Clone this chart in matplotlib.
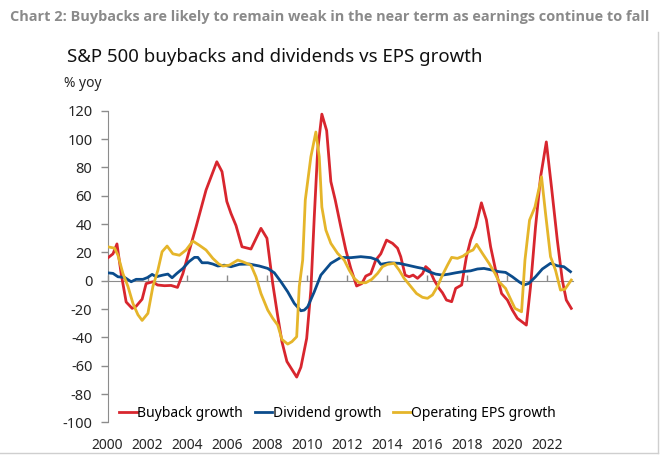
import matplotlib
matplotlib.use("Agg")
import matplotlib.pyplot as plt
from matplotlib.lines import Line2D

plt.rcParams["font.family"] = ["Noto Sans", "DejaVu Sans"]
plt.rcParams["axes.unicode_minus"] = False

# Buyback growth, % yoy (date, value)
buyback_t = [2000.0, 2000.27, 2000.47, 2000.68, 2000.93, 2001.23, 2001.43, 2001.73,
             2001.93, 2002.27, 2002.5, 2002.85, 2003.18, 2003.5, 2003.77, 2004.1,
             2004.43, 2004.93, 2005.47, 2005.73, 2005.97, 2006.18, 2006.43, 2006.73,
             2007.18, 2007.68, 2007.98, 2008.27, 2008.52, 2008.73, 2008.98, 2009.47,
             2009.68, 2009.97, 2010.18, 2010.35, 2010.52, 2010.73, 2010.97, 2011.18,
             2011.4, 2011.68, 2011.93, 2012.18, 2012.47, 2012.73, 2012.93, 2013.18,
             2013.43, 2013.68, 2013.97, 2014.27, 2014.52, 2014.68, 2014.9, 2015.1,
             2015.3, 2015.52, 2015.77, 2015.93, 2016.13, 2016.35, 2016.6, 2016.77,
             2016.97, 2017.23, 2017.43, 2017.73, 2017.97, 2018.18, 2018.43, 2018.72,
             2018.97, 2019.18, 2019.43, 2019.73, 2020.02, 2020.27, 2020.52, 2020.97,
             2021.18, 2021.43, 2021.68, 2021.97, 2022.23, 2022.52, 2022.77, 2022.97,
             2023.22]
buyback_v = [16, 19, 26, 5, -15, -19.5, -18, -13,
             -2, -0.7, -3, -3.5, -3.3, -4.7, 5, 21.7,
             38, 64, 84, 77, 56, 47.5, 39, 24,
             22.4, 37, 30, -2, -25, -43, -57, -68,
             -61, -40.7, -6.5, 45, 92, 117.6, 106, 70,
             57, 38, 21.7, 8.7, -3.7, -2, 3.3, 5,
             14.6, 19, 28.7, 26.4, 23, 17, 4, 2.8,
             4, 1.7, 5, 10, 7.5, 0.5, -5.4, -8.5,
             -13.6, -14.8, -5.4, -3, 17, 28.7, 38, 55,
             43, 24, 7.5, -9, -13.6, -20.7, -26.5, -31.3,
             -4, 38, 73, 98, 66, 28.7, 0.5, -13.6,
             -19.5]

# Dividend growth, % yoy
dividend_t = [2000.0, 2000.27, 2000.52, 2000.85, 2001.18, 2001.43, 2001.77, 2002.02,
              2002.23, 2002.43, 2002.77, 2003.02, 2003.23, 2003.47, 2003.77, 2004.07,
              2004.35, 2004.52, 2004.73, 2005.02, 2005.27, 2005.52, 2005.85, 2006.18,
              2006.6, 2007.1, 2007.6, 2008.02, 2008.35, 2008.68, 2009.02, 2009.35,
              2009.68, 2009.85, 2010.02, 2010.35, 2010.68, 2011.18, 2011.68, 2012.18,
              2012.68, 2013.18, 2013.52, 2013.68, 2014.1, 2014.6, 2015.02, 2015.52,
              2015.77, 2016.1, 2016.43, 2016.77, 2017.1, 2017.43, 2017.77, 2018.18,
              2018.52, 2018.85, 2019.27, 2019.6, 2019.93, 2020.27, 2020.6, 2020.85,
              2021.1, 2021.43, 2021.77, 2022.18, 2022.52, 2022.85, 2023.18]
dividend_v = [5.6, 5.2, 2.8, 2.4, -0.7, 1, 1, 2.4,
              4.5, 2.8, 4, 4.7, 2.1, 5.2, 8.7, 13.4,
              16.5, 16.5, 12.7, 12.7, 11.8, 10.4, 11, 9.9,
              11.6, 11.8, 10.4, 8.7, 5.6, -0.7, -7.8, -16,
              -21.2, -20.7, -18.4, -7.8, 4, 12.3, 16.5, 16.3,
              17, 16.3, 14.6, 11.6, 12.7, 12.3, 11, 9.4,
              8.7, 6.4, 4.7, 4, 4.7, 5.6, 6.4, 7,
              8.3, 8.7, 7.5, 6.4, 5.9, 2.8, -0.7, -3,
              -1.8, 2.8, 8.3, 12.3, 10.6, 9.9, 6.4]

# Operating EPS growth, % yoy
eps_t = [2000.0, 2000.35, 2000.52, 2000.77, 2001.02, 2001.27, 2001.52, 2001.73,
         2002.02, 2002.27, 2002.52, 2002.73, 2002.98, 2003.27, 2003.6, 2003.93,
         2004.27, 2004.6, 2004.93, 2005.27, 2005.57, 2005.77, 2006.1, 2006.52,
         2006.77, 2007.18, 2007.43, 2007.68, 2008.02, 2008.27, 2008.52, 2008.73,
         2009.02, 2009.23, 2009.47, 2009.6, 2009.77, 2009.9, 2010.18, 2010.43,
         2010.6, 2010.73, 2010.93, 2011.18, 2011.52, 2011.85, 2012.1, 2012.35,
         2012.6, 2012.93, 2013.23, 2013.52, 2013.77, 2014.02, 2014.35, 2014.6,
         2014.85, 2015.18, 2015.47, 2015.77, 2016.02, 2016.27, 2016.52, 2016.77,
         2017.02, 2017.23, 2017.52, 2017.8, 2018.1, 2018.3, 2018.48, 2018.77,
         2019.1, 2019.4, 2019.6, 2019.93, 2020.18, 2020.4, 2020.73, 2020.9,
         2021.13, 2021.4, 2021.73, 2021.93, 2022.18, 2022.43, 2022.68, 2022.9,
         2023.22]
eps_v = [24, 23, 18, 5, -4, -16, -24, -28,
         -23, -4, 7.5, 20.5, 24.5, 19, 18, 21.7,
         28, 25, 21.7, 15.8, 11.8, 10.4, 11, 14.6,
         13.4, 11, 2.8, -9, -20.7, -26.5, -31.3, -41.4,
         -44.7, -43, -39.5, -4, 14.6, 57, 87.5, 105,
         87.5, 52, 35.8, 26.4, 19.3, 14.6, 7.5, 1.7,
         -1.4, -1.4, 1, 5.2, 10, 11.6, 12.3, 7.5,
         1.7, -4, -9, -11.7, -12.4, -10, -4, 4,
         11, 16.5, 15.8, 17.4, 20.5, 21.7, 25.7, 19.3,
         12.3, 5.2, -0.7, -5.4, -13, -19.5, -21.9, 14.6,
         42.8, 52, 73.4, 47.6, 17, 7.5, -6.6, -6,
         0.5]

year_ticks = list(range(2000, 2024, 2))
y_ticks = list(range(-100, 121, 20))

RED, BLUE, GOLD = "#d8262e", "#0b4c8c", "#e5b52a"
GREY = "#8c8c8c"
INK = "#262626"

fig = plt.figure(figsize=(6.6, 4.55), dpi=100)
ax = fig.add_axes([0.163, 0.0716, 0.705, 0.685])

lw = 2.0
ax.plot(buyback_t, buyback_v, color=RED, lw=lw, label="Buyback growth", zorder=3)
ax.plot(dividend_t, dividend_v, color=BLUE, lw=lw, label="Dividend growth", zorder=3)
ax.plot(eps_t, eps_v, color=GOLD, lw=lw, label="Operating EPS growth", zorder=3)

ax.set_xlim(2000, 2023.3)
ax.set_ylim(-100, 120)
ax.set_yticks(y_ticks)
ax.tick_params(axis="y", length=5, width=1, color=GREY, labelsize=10.5, pad=6,
               labelcolor=INK)

# zero line carries the year ticks, pointing up
for s in ("top", "right"):
    ax.spines[s].set_visible(False)
ax.spines["left"].set_color(GREY)
ax.spines["bottom"].set_position(("data", 0))
ax.spines["bottom"].set_color(GREY)
ax.spines["bottom"].set_zorder(1)
ax.set_xticks(year_ticks)
ax.tick_params(axis="x", direction="in", length=4, width=1, color=GREY,
               labelbottom=False)

# year labels sit under the plot
sec = ax.secondary_xaxis("bottom")
sec.set_xticks(year_ticks)
sec.spines["bottom"].set_visible(False)
sec.tick_params(length=0, pad=11.5, labelsize=10, labelcolor=INK)

ax.legend(loc="center left", bbox_to_anchor=(0.013, 0.03), ncol=3, frameon=False,
          fontsize=10, handlelength=1.25, handletextpad=0.05, columnspacing=0.85,
          borderaxespad=0.0)

fig.text(0.5, 0.962,
         "Chart 2: Buybacks are likely to remain weak in the near term as earnings continue to fall",
         ha="center", va="center", fontsize=10.45, color="#8a8a8a", fontweight="bold",
         family=["Open Sans", "DejaVu Sans"])
fig.text(0.101, 0.874, "S&P 500 buybacks and dividends vs EPS growth",
         ha="left", va="center", fontsize=13.4, color="#111111")
fig.text(0.097, 0.817, "% yoy", ha="left", va="center", fontsize=10, color=INK)

# light frame on the right and bottom edges
fig.add_artist(Line2D([0.997, 0.997], [0.004, 0.93], transform=fig.transFigure,
                      color="#cfcfcf", lw=1))
fig.add_artist(Line2D([0.0, 0.997], [0.004, 0.004], transform=fig.transFigure,
                      color="#cfcfcf", lw=1))

fig.savefig("out.png", dpi=100)
